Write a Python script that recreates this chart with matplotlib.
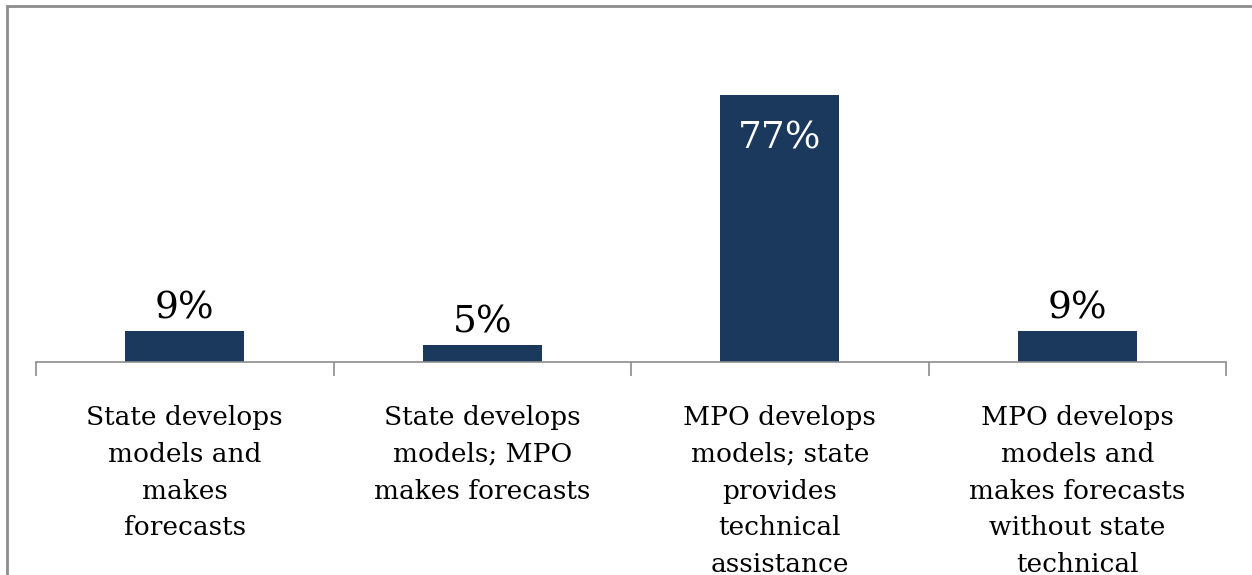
import matplotlib.pyplot as plt
from matplotlib.patches import Rectangle

# data
categories = [
    "State develops\nmodels and\nmakes\nforecasts",
    "State develops\nmodels; MPO\nmakes forecasts",
    "MPO develops\nmodels; state\nprovides\ntechnical\nassistance",
    "MPO develops\nmodels and\nmakes forecasts\nwithout state\ntechnical\nassistance",
]
values = [9, 5, 77, 9]

bar_color = "#1b385d"
grid_gray = "#8c8c8c"
serif = ["DejaVu Serif"]

fig = plt.figure(figsize=(12.52, 5.75), dpi=100)
ax = fig.add_axes([36 / 1252, 1 - 362 / 575, 1190 / 1252, 294.7 / 575])

x = list(range(len(values)))
ax.bar(x, values, width=0.4, color=bar_color, zorder=2)
ax.set_xlim(-0.5, len(values) - 0.5)
ax.set_ylim(0, 85)

# axis styling: only the bottom line with boundary ticks
for side in ["top", "left", "right"]:
    ax.spines[side].set_visible(False)
ax.spines["bottom"].set_color(grid_gray)
ax.spines["bottom"].set_linewidth(1.2)
ax.set_yticks([])
ax.set_xticks([i - 0.5 for i in range(len(values) + 1)])
ax.set_xticklabels([])
ax.tick_params(axis="x", direction="out", length=10, width=1.2, color=grid_gray)

# value labels
for i, v in enumerate(values):
    label = f"{v}%"
    if v > 50:
        ax.text(i, v - 7.3, label, ha="center", va="top", color="white",
                fontsize=27, family=serif)
    else:
        ax.text(i, v + 1.3, label, ha="center", va="bottom", color="black",
                fontsize=27, family=serif)

# category labels below the axis
for i, c in enumerate(categories):
    ax.annotate(c, xy=(i, 0), xycoords="data", xytext=(0, -31),
                textcoords="offset points", ha="center", va="top",
                fontsize=19, family=serif, linespacing=1.59,
                annotation_clip=False)

# outer frame around the chart area
fig.patches.append(Rectangle((7 / 1252, -0.1), 1.2, 1 - 6 / 575 + 0.1,
                             transform=fig.transFigure, fill=False,
                             edgecolor=grid_gray, linewidth=2))

fig.savefig("out.png", dpi=100)
